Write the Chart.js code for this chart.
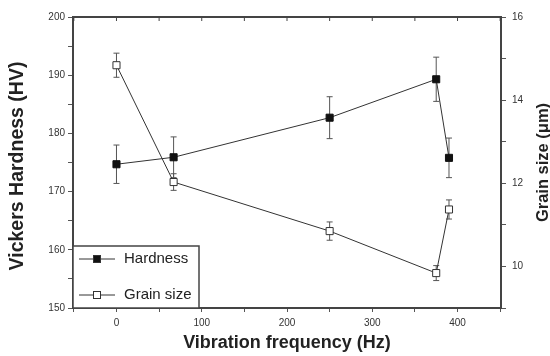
<!DOCTYPE html>
<html>
<head>
<script src="https://cdn.jsdelivr.net/npm/chart.js@4.4.0/dist/chart.umd.min.js"></script>
<style>
  body { margin: 0; background: #fff; }
  #wrap { width: 550px; height: 356px; }
</style>
</head>
<body>
<div id="wrap"><canvas id="myChart"></canvas></div>
<script>
// values
var freq = [0, 67, 250, 375, 390];
var hardness = [174.7, 175.9, 182.7, 189.3, 175.8];
var hardnessErr = [3.3, 3.5, 3.6, 3.8, 3.4];
var grain = [14.84, 12.03, 10.85, 9.84, 11.37];
var grainErr = [0.29, 0.2, 0.22, 0.18, 0.23];
var freqTicks = [-50, 0, 50, 100, 150, 200, 250, 300, 350, 400, 450];

var FONT = "'Liberation Sans', Arial, sans-serif";
var INK = '#222';
var TICKTXT = '#333';
var AXIS = '#444';

function pts(xs, ys) {
  var out = [];
  for (var i = 0; i < xs.length; i++) out.push({ x: xs[i], y: ys[i] });
  return out;
}

// error bars from the err arrays, through the dataset's own y scale
var errorBars = {
  id: 'errorBars',
  beforeDatasetsDraw: function (chart) {
    var ctx = chart.ctx;
    chart.data.datasets.forEach(function (ds, i) {
      var meta = chart.getDatasetMeta(i);
      var ys = chart.scales[ds.yAxisID];
      ctx.save();
      ctx.strokeStyle = '#555';
      ctx.lineWidth = 1;
      ds.err.forEach(function (e, j) {
        var px = meta.data[j].x;
        var top = ys.getPixelForValue(ds.data[j].y + e);
        var bot = ys.getPixelForValue(ds.data[j].y - e);
        ctx.beginPath();
        ctx.moveTo(px, top); ctx.lineTo(px, bot);
        ctx.moveTo(px - 3, top); ctx.lineTo(px + 3, top);
        ctx.moveTo(px - 3, bot); ctx.lineTo(px + 3, bot);
        ctx.stroke();
      });
      ctx.restore();
    });
  }
};

// top frame line with inward ticks, legend box and the two y titles
var extras = {
  id: 'extras',
  afterDraw: function (chart) {
    var ctx = chart.ctx, a = chart.chartArea, xs = chart.scales.x;
    ctx.save();
    ctx.strokeStyle = AXIS;
    ctx.lineWidth = 2;
    ctx.beginPath();
    ctx.moveTo(a.left - 1, a.top); ctx.lineTo(a.right + 1, a.top);
    ctx.stroke();
    ctx.lineWidth = 1;
    xs.ticks.forEach(function (t) {
      var px = xs.getPixelForValue(t.value);
      ctx.beginPath(); ctx.moveTo(px, a.top); ctx.lineTo(px, a.top + 4); ctx.stroke();
    });

    // legend
    var lx = a.left, ly = 246, lw = 126;
    ctx.fillStyle = '#fff';
    ctx.fillRect(lx, ly, lw, a.bottom - ly);
    ctx.strokeStyle = AXIS;
    ctx.lineWidth = 1.5;
    ctx.strokeRect(lx, ly, lw, a.bottom - ly);
    var rows = [259, 295];
    chart.data.datasets.forEach(function (ds, i) {
      var y = rows[i];
      ctx.strokeStyle = '#333';
      ctx.lineWidth = 1;
      ctx.beginPath(); ctx.moveTo(lx + 6, y); ctx.lineTo(lx + 42, y); ctx.stroke();
      ctx.fillStyle = ds.pointBackgroundColor;
      ctx.fillRect(lx + 20.5, y - 3.5, 7, 7);
      ctx.strokeRect(lx + 20.5, y - 3.5, 7, 7);
      ctx.fillStyle = INK;
      ctx.font = '15px ' + FONT;
      ctx.textBaseline = 'middle';
      ctx.textAlign = 'left';
      ctx.fillText(ds.label, lx + 51, y);
    });

    // y titles, both reading bottom to top
    ctx.fillStyle = INK;
    ctx.textAlign = 'center';
    ctx.textBaseline = 'middle';
    ctx.save();
    ctx.translate(18, 166);
    ctx.rotate(-Math.PI / 2);
    ctx.font = 'bold 19.5px ' + FONT;
    ctx.fillText('Vickers Hardness (HV)', 0, 0);
    ctx.restore();

    ctx.translate(543, (a.top + a.bottom) / 2);
    ctx.rotate(-Math.PI / 2);
    ctx.font = 'bold 16.5px ' + FONT;
    ctx.fillText('Grain size (\u03bcm)', 0, 0);
    ctx.restore();
  }
};

new Chart('myChart', {
  type: 'line',
  data: {
    datasets: [
      {
        label: 'Hardness',
        data: pts(freq, hardness),
        err: hardnessErr,
        yAxisID: 'y',
        borderColor: '#333',
        borderWidth: 1,
        pointStyle: 'rect',
        pointRadius: 5,
        pointBackgroundColor: '#111',
        pointBorderColor: '#111',
        pointBorderWidth: 1
      },
      {
        label: 'Grain size',
        data: pts(freq, grain),
        err: grainErr,
        yAxisID: 'y1',
        borderColor: '#333',
        borderWidth: 1,
        pointStyle: 'rect',
        pointRadius: 5,
        pointBackgroundColor: '#fff',
        pointBorderColor: '#333',
        pointBorderWidth: 1
      }
    ]
  },
  options: {
    responsive: true,
    maintainAspectRatio: false,
    animation: false,
    layout: { padding: { top: 17, left: 0, right: 0, bottom: 0 } },
    plugins: { legend: { display: false }, tooltip: { enabled: false } },
    scales: {
      x: {
        type: 'linear',
        min: -51, max: 451,
        afterFit: function (s) { s.height = 48; },
        afterBuildTicks: function (s) {
          s.ticks = freqTicks.map(function (v) { return { value: v }; });
        },
        border: { color: AXIS, width: 2 },
        grid: { drawOnChartArea: false, color: '#555', tickLength: 4 },
        ticks: {
          padding: 5, color: TICKTXT, maxRotation: 0, autoSkip: false,
          font: { family: FONT, size: 10 },
          callback: function (v) { return v % 100 === 0 ? v : ''; }
        },
        title: {
          display: true, text: 'Vibration frequency (Hz)', color: INK,
          font: { family: FONT, size: 18, weight: 'bold' },
          padding: { top: 0, bottom: 2 }
        }
      },
      y: {
        position: 'left',
        min: 150, max: 200,
        afterFit: function (s) { s.width = 73; },
        border: { color: AXIS, width: 2 },
        grid: { drawOnChartArea: false, color: '#555', tickLength: 5 },
        ticks: {
          stepSize: 5, padding: 3, color: TICKTXT,
          font: { family: FONT, size: 10 },
          callback: function (v) { return v % 10 === 0 ? v : ''; }
        }
      },
      y1: {
        position: 'right',
        min: 9, max: 16,
        afterFit: function (s) { s.width = 49; },
        border: { color: AXIS, width: 2 },
        grid: { drawOnChartArea: false, color: '#555', tickLength: 5 },
        ticks: {
          stepSize: 1, padding: 6, color: TICKTXT,
          font: { family: FONT, size: 10 },
          callback: function (v) { return v % 2 === 0 ? v : ''; }
        }
      }
    }
  },
  plugins: [errorBars, extras]
});
</script>
</body>
</html>
